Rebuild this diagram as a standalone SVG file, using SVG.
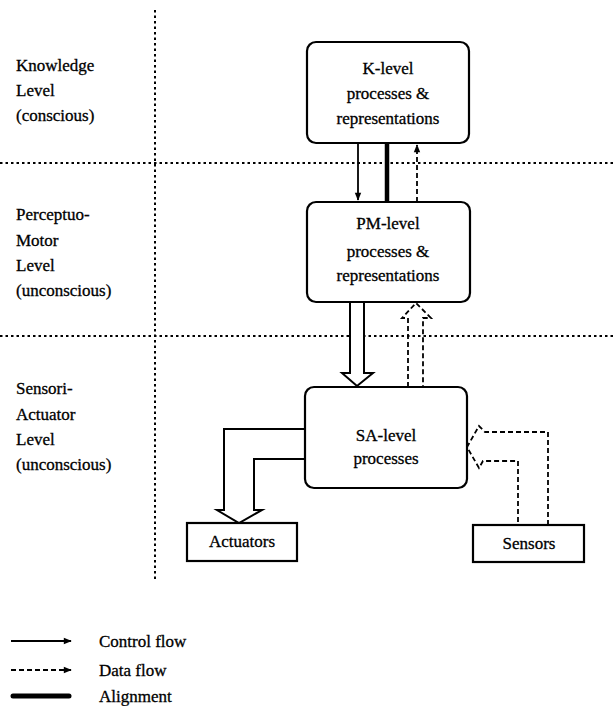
<svg xmlns="http://www.w3.org/2000/svg" width="615" height="706" viewBox="0 0 615 706">
<style>
text{font-family:"Liberation Serif","Times New Roman",serif;font-size:17px;fill:#000;stroke:#000;stroke-width:0.3}
.c{text-anchor:middle}
.box{fill:#fff;stroke:#000;stroke-width:2.2}
.sep{stroke:#000;stroke-width:2;stroke-dasharray:2.5 3;fill:none}
.ln{stroke:#000;stroke-width:1.8;fill:none}
.dash{stroke:#000;stroke-width:1.8;fill:none;stroke-dasharray:5 3}
.hol{stroke:#000;stroke-width:2;fill:#fff;stroke-linejoin:miter}
.hold{stroke:#000;stroke-width:1.8;fill:none;stroke-dasharray:5 3}
</style>
<defs>
<marker id="ah" viewBox="0 0 10 10" refX="9" refY="5" markerWidth="10" markerHeight="8" markerUnits="userSpaceOnUse" orient="auto">
<path d="M0,1 L10,5 L0,9 Z" fill="#000"/>
</marker>
</defs>
<g id="separators">
<line class="sep" x1="155" y1="10" x2="155" y2="582"/>
<line class="sep" x1="0" y1="163" x2="615" y2="163"/>
<line class="sep" x1="0" y1="336" x2="615" y2="336"/>
</g>
<g id="level-labels">
<text x="16" y="71">Knowledge</text>
<text x="16" y="96">Level</text>
<text x="16" y="121">(conscious)</text>
<text x="16" y="220">Perceptuo-</text>
<text x="16" y="246">Motor</text>
<text x="16" y="271">Level</text>
<text x="16" y="296">(unconscious)</text>
<text x="16" y="394">Sensori-</text>
<text x="16" y="420">Actuator</text>
<text x="16" y="445">Level</text>
<text x="16" y="470">(unconscious)</text>
</g>
<g id="connectors">
<line class="ln" x1="358" y1="143" x2="358" y2="200" marker-end="url(#ah)"/>
<line x1="387" y1="143" x2="387" y2="202" stroke="#000" stroke-width="4.5"/>
<line class="dash" x1="417" y1="202" x2="417" y2="145" marker-end="url(#ah)"/>
<polygon class="hol" points="350,301 350,373 342,373 357,386 373,373 364,373 364,301"/>
<polyline class="hold" points="408,387 408,318 402,318 416,303 431,318 423,318 423,387"/>
<polygon class="hol" points="305,429 224,429 224,510 217,510 239,523 262,510 254,510 254,459 305,459"/>
<polyline class="hold" points="548,525 548,432 485,432 479,426 467,447 479,468 483,461 518,461 518,525"/>
</g>
<g id="k-level">
<rect class="box" x="307" y="42" width="162" height="101" rx="9"/>
<text class="c" x="388" y="74">K-level</text>
<text class="c" x="388" y="99">processes &amp;</text>
<text class="c" x="388" y="124">representations</text>
</g>
<g id="pm-level">
<rect class="box" x="307" y="202" width="163" height="100" rx="9"/>
<text class="c" x="388" y="229">PM-level</text>
<text class="c" x="388" y="257">processes &amp;</text>
<text class="c" x="388" y="281">representations</text>
</g>
<g id="sa-level">
<rect class="box" x="305" y="387" width="162" height="101" rx="9"/>
<text class="c" x="386" y="441">SA-level</text>
<text class="c" x="386" y="464">processes</text>
</g>
<g id="actuators">
<rect class="box" x="187" y="523" width="110" height="38"/>
<text class="c" x="242" y="547">Actuators</text>
</g>
<g id="sensors">
<rect class="box" x="473" y="525" width="111" height="37"/>
<text class="c" x="529" y="549">Sensors</text>
</g>
<g id="legend">
<line class="ln" x1="11" y1="641" x2="71" y2="641" marker-end="url(#ah)"/>
<text x="99" y="647">Control flow</text>
<line class="dash" x1="11" y1="670" x2="71" y2="670" marker-end="url(#ah)"/>
<text x="99" y="676">Data flow</text>
<line x1="13" y1="696" x2="69" y2="696" stroke="#000" stroke-width="5" stroke-linecap="round"/>
<text x="99" y="702">Alignment</text>
</g>
</svg>
